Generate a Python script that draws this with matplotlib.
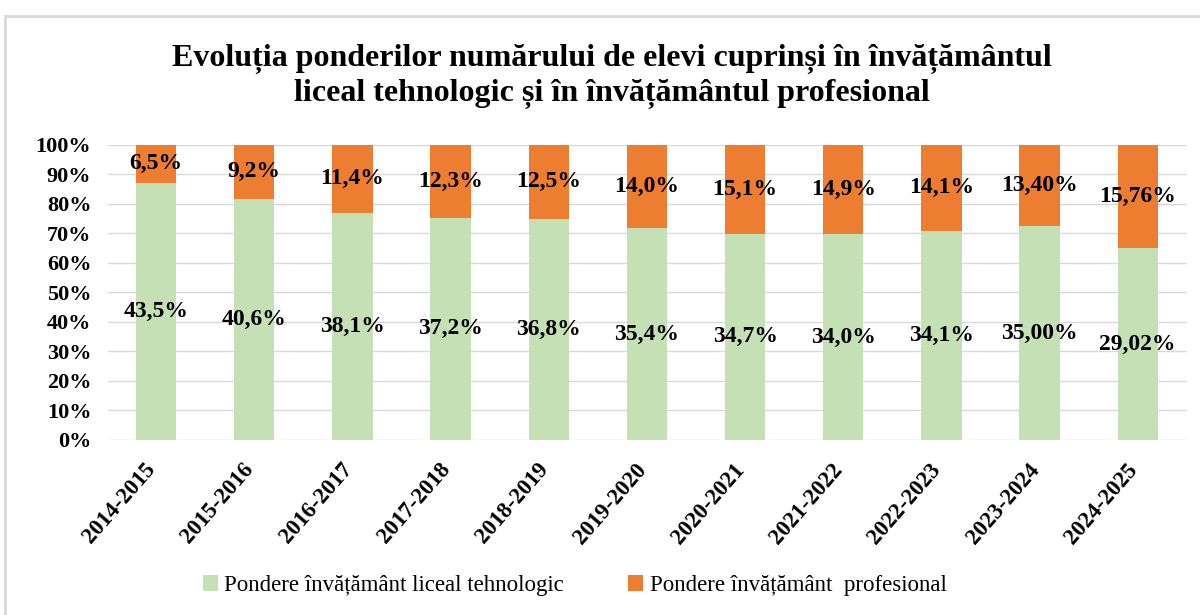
import matplotlib.pyplot as plt
import matplotlib.transforms as mtransforms
import numpy as np
from matplotlib.patches import Rectangle

years = ['2014-2015', '2015-2016', '2016-2017', '2017-2018', '2018-2019', '2019-2020',
         '2020-2021', '2021-2022', '2022-2023', '2023-2024', '2024-2025']
liceal = [43.5, 40.6, 38.1, 37.2, 36.8, 35.4, 34.7, 34.0, 34.1, 35.00, 29.02]
profesional = [6.5, 9.2, 11.4, 12.3, 12.5, 14.0, 15.1, 14.9, 14.1, 13.40, 15.76]
liceal_txt = ['43,5%', '40,6%', '38,1%', '37,2%', '36,8%', '35,4%', '34,7%', '34,0%', '34,1%', '35,00%', '29,02%']
prof_txt = ['6,5%', '9,2%', '11,4%', '12,3%', '12,5%', '14,0%', '15,1%', '14,9%', '14,1%', '13,40%', '15,76%']

plt.rcParams['font.family'] = ['Liberation Serif', 'DejaVu Serif']

liceal = np.array(liceal)
profesional = np.array(profesional)
total = liceal + profesional
g = liceal / total * 100
o = profesional / total * 100

fig = plt.figure(figsize=(12, 6.15), dpi=100)
ax = fig.add_axes([0.09, 0.285, 0.899, 0.48])

x = np.arange(len(years))
w = 0.41
ax.bar(x, g, w, color='#C5E0B4', label='Pondere învățământ liceal tehnologic', zorder=2)
ax.bar(x, o, w, bottom=g, color='#ED7D31', label='Pondere învățământ  profesional', zorder=2)

for i in range(len(years)):
    ax.text(x[i], g[i] / 2, liceal_txt[i], ha='center', va='center', fontsize=17, fontweight='bold', zorder=3)
    ax.text(x[i], g[i] + o[i] / 2, prof_txt[i], ha='center', va='center', fontsize=17, fontweight='bold', zorder=3)

ax.set_ylim(0, 100)
ax.set_xlim(-0.49, len(years) - 0.5)
ax.set_yticks(range(0, 101, 10))
ax.set_yticklabels([f'{v}%' for v in range(0, 101, 10)], fontsize=16, fontweight='bold')
ax.set_xticks(x)
ax.set_xticklabels(years, rotation=49, ha='right', rotation_mode='anchor', fontsize=16.5, fontweight='bold')
ax.yaxis.grid(True, color='#D9D9D9', linewidth=1, zorder=0)
for s in ax.spines.values():
    s.set_visible(False)
ax.tick_params(length=0, pad=12)
ax.tick_params(axis='x', pad=14)
# nudge the rotated year labels a bit to the left
offset = mtransforms.ScaledTranslation(-0.12, 0, fig.dpi_scale_trans)
for lab in ax.get_xticklabels():
    lab.set_transform(lab.get_transform() + offset)

fig.text(0.51, 0.876, 'Evoluția ponderilor numărului de elevi cuprinși în învățământul\nliceal tehnologic și în învățământul profesional',
         ha='center', va='center', fontsize=23, fontweight='bold', linespacing=1.25)

fig.legend(loc='center', bbox_to_anchor=(0.479, 0.048), ncol=2, frameon=False, fontsize=16.5,
           handlelength=0.65, handleheight=0.65, handletextpad=0.3, columnspacing=2.8)

fig.patches.append(Rectangle((0.004, -0.01), 1.1, 0.984, transform=fig.transFigure,
                             fill=False, edgecolor='#D9D9D9', linewidth=2))

fig.savefig('out.png', dpi=100)
